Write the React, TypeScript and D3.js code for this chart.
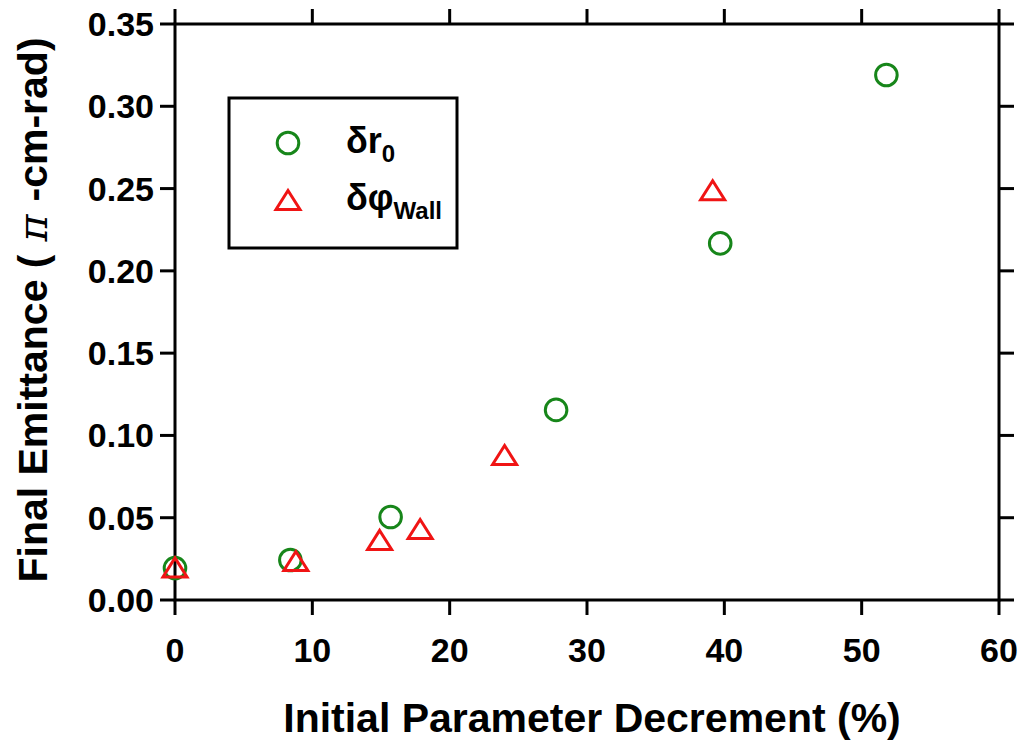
import React from "react";
import * as d3 from "d3";

// Emittance growth versus initial parameter decrement
const r0X = [0, 8.4, 15.7, 27.75, 39.7, 51.8];
const r0Y = [0.0194, 0.0243, 0.0504, 0.1155, 0.2167, 0.319];
const wallX = [0, 8.8, 14.9, 17.85, 24.0, 39.15];
const wallY = [0.0198, 0.0237, 0.0365, 0.0431, 0.0881, 0.249];
const xTicks = [0, 10, 20, 30, 40, 50, 60];
const yTicks = [0, 0.05, 0.1, 0.15, 0.2, 0.25, 0.3, 0.35];

const W = 1021;
const H = 740;
const left = 175;
const right = 999;
const top = 24;
const bottom = 600;
const TICK = 15;
const FONT = "'Liberation Sans', Arial, sans-serif";
const GREEN = "#17861a";
const RED = "#f01414";

export default function App() {
  const x = d3.scaleLinear().domain([0, 60]).range([left, right]);
  const y = d3.scaleLinear().domain([0, 0.35]).range([bottom, top]);
  const tri = (cx: number, cy: number) =>
    `M${cx},${cy - 9.5}L${cx + 12},${cy + 9.5}L${cx - 12},${cy + 9.5}Z`;

  return (
    <svg
      width={W}
      height={H}
      style={{ position: "absolute", left: 0, top: 0, background: "#fff" }}
      fontFamily={FONT}
    >
      <rect x={0} y={0} width={W} height={H} fill="#fff" />
      {/* frame */}
      <g stroke="#000" strokeWidth={3} fill="none">
        <rect x={left} y={top} width={right - left} height={bottom - top} />
        {xTicks.map((t) => (
          <g key={"xt" + t}>
            <line x1={x(t)} x2={x(t)} y1={bottom} y2={bottom + TICK} />
            <line x1={x(t)} x2={x(t)} y1={top} y2={top - TICK} />
          </g>
        ))}
        {yTicks.map((t) => (
          <g key={"yt" + t}>
            <line x1={left - TICK} x2={left} y1={y(t)} y2={y(t)} />
            <line x1={right} x2={right + TICK} y1={y(t)} y2={y(t)} />
          </g>
        ))}
      </g>
      {/* tick labels */}
      <g fontWeight="bold" fontSize={34} fill="#000">
        {xTicks.map((t) => (
          <text key={"xl" + t} x={x(t)} y={662} textAnchor="middle">
            {t}
          </text>
        ))}
        {yTicks.map((t) => (
          <text key={"yl" + t} x={154} y={y(t) + 12} textAnchor="end">
            {t.toFixed(2)}
          </text>
        ))}
      </g>
      {/* axis titles */}
      <text
        x={592}
        y={732}
        textAnchor="middle"
        fontWeight="bold"
        fontSize={41}
      >
        Initial Parameter Decrement (%)
      </text>
      <text
        transform={`translate(47,${(top + bottom) / 2 - 2}) rotate(-90)`}
        textAnchor="middle"
        fontWeight="bold"
        fontSize={41}
      >
        Final Emittance (
        <tspan fontFamily="'DejaVu Serif', 'Liberation Serif', serif" fontStyle="italic" fontWeight="normal">
          {" π "}
        </tspan>
        -cm-rad)
      </text>
      {/* data */}
      <g fill="none" stroke={GREEN} strokeWidth={3}>
        {r0X.map((v, i) => (
          <circle key={"c" + i} cx={x(v)} cy={y(r0Y[i])} r={10.8} />
        ))}
      </g>
      <g fill="none" stroke={RED} strokeWidth={3} strokeLinejoin="miter">
        {wallX.map((v, i) => (
          <path key={"t" + i} d={tri(x(v), y(wallY[i]))} />
        ))}
      </g>
      {/* legend */}
      <rect x={229} y={98} width={228} height={150} fill="#fff" stroke="#000" strokeWidth={3} />
      <circle cx={288} cy={143} r={10.8} fill="none" stroke={GREEN} strokeWidth={3} />
      <path d={tri(288, 200)} fill="none" stroke={RED} strokeWidth={3} />
      <text x={346} y={153} fontWeight="bold" fontSize={36}>
        δr
        <tspan fontSize={24} dy={9}>0</tspan>
      </text>
      <text x={346} y={210} fontWeight="bold" fontSize={36}>
        δφ
        <tspan fontSize={24} dy={9}>Wall</tspan>
      </text>
    </svg>
  );
}
